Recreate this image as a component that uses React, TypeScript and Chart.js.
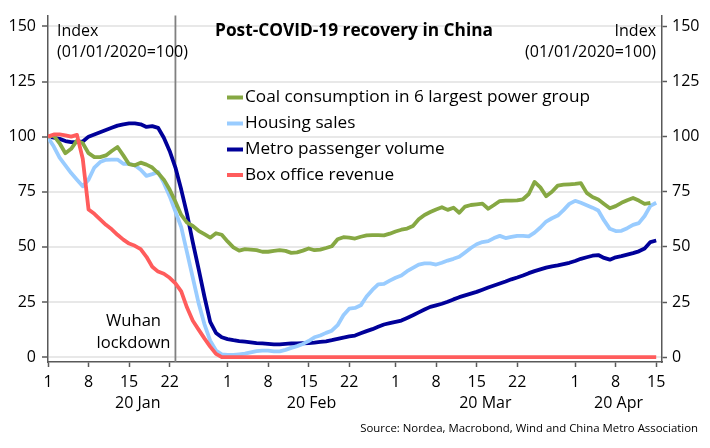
import React, { useEffect, useRef } from 'react';
import { Chart, registerables } from 'chart.js';

Chart.register(...registerables);

const FONT = '"Open Sans", "Noto Sans", sans-serif';

// Day offsets from 1 Jan 2020 (index = day)
const coal: (number | null)[] = [
  100, 100.5, 97, 92.5, 94.5, 98.2, 97, 92.5, 90.7, 90.7,
  91.5, 93.5, 95.3, 91.5, 87.5, 87, 88.2, 87.3, 86, 83.5,
  80.5, 76, 70.5, 64.5, 61, 59.5, 57.3, 55.8, 54.2, 56.2,
  55.5, 52.5, 49.8, 48.3, 49, 48.8, 48.5, 47.8, 47.8, 48.2,
  48.5, 48.2, 47.3, 47.5, 48.3, 49.3, 48.5, 48.8, 49.5, 50.3,
  53.5, 54.4, 54.2, 53.8, 54.6, 55.2, 55.3, 55.3, 55.2, 56,
  57, 57.8, 58.3, 59.5, 62.5, 64.5, 65.8, 67, 68, 66.8,
  67.8, 65.5, 68.3, 69, 69.3, 69.6, 67.3, 69, 70.8, 71,
  71, 71.1, 71.6, 74, 79.5, 77, 73, 75, 77.8, 78.2,
  78.4, 78.6, 78.9, 74.5, 72.6, 71.5, 69.5, 67.5, 68.5, 70,
  71.2, 72.2, 71, 69.5, 70, null,
];

const housing: (number | null)[] = [
  99.6, 95.5, 90.5, 87, 83.5, 80.5, 77.5, 80.5, 86, 88.5,
  89.5, 89.6, 89.6, 87.7, 87.7, 87, 85, 82.2, 83, 84,
  79, 73, 66, 59, 47.5, 36, 24.5, 15, 7.5, 3,
  1.3, 1, 1, 1.3, 1.6, 2.2, 2.7, 3, 3, 2.6,
  2.6, 3.3, 4.2, 5, 6, 7.3, 9, 9.8, 11, 12,
  14.5, 19, 22, 22.3, 23.5, 27.5, 30.5, 33, 33.2, 34.7,
  36, 37, 39, 40.5, 42, 42.5, 42.5, 42, 42.8, 43.8,
  44.6, 45.5, 47.5, 49.5, 51.2, 52.2, 52.6, 54, 55, 54,
  54.5, 55, 55, 54.8, 56.5, 58.8, 61.5, 63, 64.2, 66.7,
  69.5, 70.9, 70, 68.9, 67.8, 66.5, 62, 58.2, 57.2, 57.3,
  58.5, 60, 60.8, 64, 68.6, 70,
];

const metro: (number | null)[] = [
  100, 99.5, 99, 98, 97.5, 97.5, 97.8, 100, 101, 102,
  103, 104, 105, 105.6, 106, 106, 105.6, 104.4, 104.8, 104,
  99.5, 93.5, 86, 76, 65, 52, 40, 27.5, 16, 11,
  9, 8.2, 7.7, 7.3, 7, 6.7, 6.4, 6.2, 6, 5.8,
  5.8, 6, 6.2, 6.2, 6.3, 6.4, 6.6, 6.9, 7.2, 7.7,
  8.3, 8.9, 9.4, 9.8, 10.8, 11.8, 12.7, 13.8, 14.8, 15.4,
  16, 16.6, 17.8, 19, 20.3, 21.6, 22.8, 23.5, 24.2, 25.1,
  26.2, 27.2, 28, 28.8, 29.6, 30.6, 31.6, 32.5, 33.4, 34.3,
  35.3, 36.1, 37, 38.1, 39, 39.8, 40.6, 41.2, 41.6, 42.2,
  42.8, 43.6, 44.6, 45.3, 46, 46.3, 45, 44.2, 45.3, 45.8,
  46.5, 47.2, 48, 49.3, 52.2, 52.9,
];

const boxOffice: (number | null)[] = [
  100, 101, 101, 100.6, 100, 100.8, 90, 67, 65, 62.5,
  60, 58, 55.5, 53.3, 51.5, 50.5, 49, 45.5, 41, 38.8,
  37.8, 36, 33.5, 29.8, 22.5, 16.5, 12.5, 8.5, 4.8, 1.5,
  0, 0, 0, 0, 0, 0, 0, 0, 0, 0,
  0, 0, 0, 0, 0, 0, 0, 0, 0, 0,
  0, 0, 0, 0, 0, 0, 0, 0, 0, 0,
  0, 0, 0, 0, 0, 0, 0, 0, 0, 0,
  0, 0, 0, 0, 0, 0, 0, 0, 0, 0,
  0, 0, 0, 0, 0, 0, 0, 0, 0, 0,
  0, 0, 0, 0, 0, 0, 0, 0, 0, 0,
  0, 0, 0, 0, 0, 0,
];

const seriesNames = [
  'Coal consumption in 6 largest power group',
  'Housing sales',
  'Metro passenger volume',
  'Box office revenue',
];
const seriesColors = ['#86A843', '#99CCFF', '#000099', '#FF5C5C'];

const tickDays = [0, 7, 14, 21, 31, 38, 45, 52, 60, 67, 74, 81, 91, 98, 105];
const tickLabels = ['1', '8', '15', '22', '1', '8', '15', '22', '1', '8', '15', '22', '1', '8', '15'];
const monthNames = ['20 Jan', '20 Feb', '20 Mar', '20 Apr'];
const monthStartDays = [0, 31, 60, 91];
const monthEndDays = [31, 60, 91, 106];
const yTicks = [0, 25, 50, 75, 100, 125, 150];
const lockdownDay = 22;
const X_MAX = 106;

const titleText = 'Post-COVID-19 recovery in China';
const indexLine1 = 'Index';
const indexLine2 = '(01/01/2020=100)';
const lockdownText = ['Wuhan', 'lockdown'];
const sourceText = 'Source: Nordea, Macrobond, Wind and China Metro Association';

const toPoints = (arr: (number | null)[]) => arr.map((v, i) => ({ x: i, y: v }));

const decorPlugin = {
  id: 'decor',
  beforeDatasetsDraw(chart: any) {
    const { ctx, chartArea, scales } = chart;
    const x = scales.x.getPixelForValue(lockdownDay);
    ctx.save();
    ctx.strokeStyle = '#808080';
    ctx.lineWidth = 1.8;
    ctx.beginPath();
    ctx.moveTo(x, chartArea.top);
    ctx.lineTo(x, chartArea.bottom);
    ctx.stroke();
    ctx.restore();
  },
  afterDraw(chart: any) {
    const { ctx, chartArea, scales } = chart;
    const xs = scales.x;
    ctx.save();
    ctx.fillStyle = '#000';
    ctx.textBaseline = 'middle';

    // Title
    ctx.font = `bold 17.3px ${FONT}`;
    ctx.textAlign = 'center';
    ctx.fillText(titleText, 354, 31);

    // Index labels
    ctx.font = `16px ${FONT}`;
    ctx.textAlign = 'left';
    ctx.fillText(indexLine1, chartArea.left + 9, 31);
    ctx.fillText(indexLine2, chartArea.left + 9, 52);
    ctx.textAlign = 'right';
    ctx.fillText(indexLine1, chartArea.right - 6, 31);
    ctx.fillText(indexLine2, chartArea.right - 6, 52);

    // Lockdown text
    ctx.font = `16.6px ${FONT}`;
    ctx.textAlign = 'center';
    ctx.fillText(lockdownText[0], 133.5, 321);
    ctx.fillText(lockdownText[1], 133.5, 343);

    // Legend
    ctx.font = `17.2px ${FONT}`;
    const rowsY = [97.5, 123.5, 149.5, 175];
    seriesNames.forEach((name, i) => {
      ctx.strokeStyle = seriesColors[i];
      ctx.lineWidth = 4;
      ctx.beginPath();
      ctx.moveTo(227, rowsY[i]);
      ctx.lineTo(243, rowsY[i]);
      ctx.stroke();
      ctx.textAlign = 'left';
      ctx.fillStyle = '#000';
      ctx.fillText(name, 245, rowsY[i]);
    });

    // Month labels
    ctx.font = `16px ${FONT}`;
    ctx.textAlign = 'center';
    monthNames.forEach((m, i) => {
      const a = xs.getPixelForValue(monthStartDays[i]);
      const b = xs.getPixelForValue(Math.min(monthEndDays[i], X_MAX));
      ctx.fillText(m, (a + b) / 2, 403);
    });

    // Source
    ctx.font = `11.4px ${FONT}`;
    ctx.textAlign = 'right';
    ctx.fillText(sourceText, 698, 429);
    ctx.restore();
  },
};

export default function App() {
  const canvasRef = useRef<HTMLCanvasElement | null>(null);

  useEffect(() => {
    if (!canvasRef.current) return;
    const yAxisCommon = {
      type: 'linear' as const,
      min: -2.2,
      max: 154.9,
      afterBuildTicks: (scale: any) => {
        scale.ticks = yTicks.map((v) => ({ value: v }));
      },
      ticks: {
        color: '#000',
        font: { family: FONT, size: 16 },
        padding: 6,
      },
      border: { display: true, color: '#595959', width: 1.5 },
    };

    const chart = new Chart(canvasRef.current, {
      type: 'line',
      data: {
        datasets: [
          { label: seriesNames[3], data: toPoints(boxOffice), borderColor: seriesColors[3] },
          { label: seriesNames[0], data: toPoints(coal), borderColor: seriesColors[0] },
          { label: seriesNames[1], data: toPoints(housing), borderColor: seriesColors[1] },
          { label: seriesNames[2], data: toPoints(metro), borderColor: seriesColors[2] },
        ].map((d) => ({
          ...d,
          borderWidth: 3.8,
          pointRadius: 0,
          tension: 0,
          fill: false,
          spanGaps: false,
          borderJoinStyle: 'round' as const,
          borderCapStyle: 'butt' as const,
        })),
      },
      options: {
        responsive: false,
        animation: false,
        events: [],
        layout: { padding: { top: 8, left: 0, right: 0, bottom: 0 } },
        plugins: {
          legend: { display: false },
          tooltip: { enabled: false },
          title: { display: false },
        },
        scales: {
          x: {
            type: 'linear',
            min: 0,
            max: X_MAX,
            afterBuildTicks: (scale: any) => {
              scale.ticks = tickDays.map((v) => ({ value: v }));
            },
            afterFit: (scale: any) => {
              scale.height = 86;
            },
            ticks: {
              autoSkip: false,
              maxRotation: 0,
              color: '#000',
              font: { family: FONT, size: 16 },
              padding: 6,
              callback: (val: any) => {
                const idx = tickDays.indexOf(Number(val));
                return idx >= 0 ? tickLabels[idx] : '';
              },
            },
            grid: {
              drawOnChartArea: false,
              drawTicks: true,
              tickLength: 5,
              tickColor: '#595959',
              tickWidth: 1.5,
            },
            border: { display: true, color: '#595959', width: 1.5 },
          },
          y: {
            ...yAxisCommon,
            position: 'left',
            afterFit: (scale: any) => {
              scale.width = 48;
            },
            grid: {
              color: '#E8E8E8',
              lineWidth: 2,
              drawTicks: true,
              tickLength: 6,
              tickColor: '#595959',
              tickWidth: 1.5,
            },
          },
          y2: {
            ...yAxisCommon,
            position: 'right',
            afterFit: (scale: any) => {
              scale.width = 48;
            },
            ticks: { ...yAxisCommon.ticks, padding: 5 },
            grid: {
              drawOnChartArea: false,
              drawTicks: true,
              tickLength: 5,
              tickColor: '#595959',
              tickWidth: 1.5,
            },
          },
        },
      },
      plugins: [decorPlugin],
    });
    return () => chart.destroy();
  }, []);

  return (
    <div style={{ position: 'absolute', left: 0, top: 0, width: 710, height: 448, background: '#fff' }}>
      <canvas ref={canvasRef} width={710} height={448} style={{ display: 'block' }} />
    </div>
  );
}
